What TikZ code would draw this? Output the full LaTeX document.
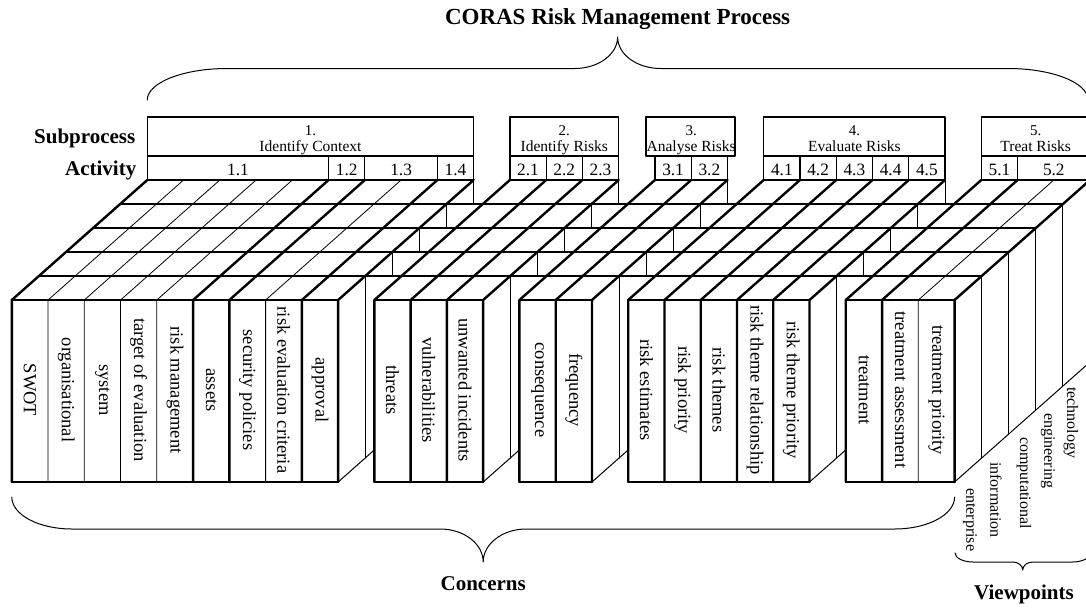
\documentclass[tikz,border=0pt]{standalone}
\usepackage{fontspec}
\setmainfont{Liberation Serif}
\newcommand\fsz[1]{\fontsize{#1}{#1}\selectfont}
\begin{document}
\begin{tikzpicture}[x=1pt,y=-1pt,line cap=round,line join=round,
  heavy/.style={line width=2.4pt},
  edge/.style={line width=2pt},
  layer/.style={line width=1.3pt},
  light/.style={line width=0.8pt},
  side/.style={line width=1pt},
  box/.style={line width=1.2pt},
  bracestroke/.style={line width=1pt},
  concern/.style={rotate=-90,inner sep=0pt,font=\fsz{18.5}},
  viewpt/.style={rotate=-90,anchor=west,inner sep=0pt,font=\fsz{16}},
  actnum/.style={anchor=base,inner sep=0pt,font=\fsz{17.3}},
  subnum/.style={anchor=base,inner sep=0pt,font=\fsz{15}},
  subname/.style={anchor=base,inner sep=0pt,font=\fsz{15.5}},
  heading/.style={inner sep=0pt,font=\bfseries\fsz{21}}]
% unit column width, front/back left edges, depth step per layer
\def\U{36.26}\def\FX{11.8}\def\BX{147.3}\def\DX{27.1}\def\DY{24}
\useasboundingbox (0,0) rectangle (1086,608);
\clip (0,0) rectangle (1086,608);

% layer lines across the top faces
\foreach \j in {1,...,4}
  \draw[layer] ({\FX+\j*\DX},{300-\j*\DY}) -- ({\FX+26*\U+\j*\DX},{300-\j*\DY});

% column borders: activity borders heavy, inner borders light
\foreach \b in {0,5,6,8,9,10,11,12,13,14,15,16,17,18,19,20,21,22,23,24,26}
  \draw[heavy] ({\FX+\b*\U},482) -- ({\FX+\b*\U},300) -- ({\BX+\b*\U},180);
\foreach \b in {1,2,3,4,7,25}
  \draw[light] ({\FX+\b*\U},482) -- ({\FX+\b*\U},300) -- ({\BX+\b*\U},180);

% blocks: front edges, subprocess box, activity row
\foreach \a/\e/\l/\r/\n/\t in {0/9/0/0/1/Identify Context, 10/13/0/0/2/Identify Risks,
    14/16/9/7.5/3/Analyse Risks, 17/22/0/0/4/Evaluate Risks, 23/26/0/0/5/Treat Risks}{
  \draw[edge] ({\FX+\a*\U},300) -- ({\FX+\e*\U},300);
  \draw[edge] ({\FX+\a*\U},482) -- ({\FX+\e*\U},482);
  \draw[box] ({\BX+\a*\U-\l},117) rectangle ({\BX+\e*\U+\r},156);
  \draw[box] ({\BX+\a*\U},156) rectangle ({\BX+\e*\U},180);
  \node[subnum] (sn\n) at ({\BX+(\a+\e)/2*\U},135) {\n.};
  \node[subname] (sp\n) at ({\BX+(\a+\e)/2*\U},151.5) {\t};
}

% activity dividers
\foreach \b in {5,6,8,11,12,15,18,19,20,21,24}
  \draw[box] ({\BX+\b*\U},156) -- ({\BX+\b*\U},180);

\foreach \a/\e/\t [count=\i] in {0/5/1.1, 5/6/1.2, 6/8/1.3, 8/9/1.4, 10/11/2.1, 11/12/2.2,
    12/13/2.3, 14/15/3.1, 15/16/3.2, 17/18/4.1, 18/19/4.2, 19/20/4.3, 20/21/4.4, 21/22/4.5,
    23/24/5.1, 24/26/5.2}
  \node[actnum] (act\i) at ({\BX+(\a+\e)/2*\U},175) {\t};

% right side faces seen through the gaps (stepped)
\foreach \e in {9,13,16,22}{
  \pgfmathsetmacro\R{\FX+\e*\U}
  \draw[side] (\R,482) -- ({\R+\U},{482-\U*\DY/\DX});
  \draw[side] ({\R+\DX},276) -- ({\R+\DX},458);
  \foreach \j in {2,...,5}
    \draw[side] ({\R+\j*\DX},{300-\j*\DY}) -- ({\R+\j*\DX},{324-\j*\DY});
}
% right side face of the last block
\pgfmathsetmacro\RL{\FX+26*\U}
\draw[side] (\RL,482) -- ({\RL+5*\DX},{482-5*\DY});
\foreach \j in {1,...,5}
  \draw[side] ({\RL+\j*\DX},{300-\j*\DY}) -- ({\RL+\j*\DX},{482-\j*\DY});

% concerns on the front faces
\foreach \c/\t in {0/SWOT,1/organisational,2/system,3/target of evaluation,4/risk management,
    5/assets,6/security policies,7/risk evaluation criteria,8/approval,10/threats,
    11/vulnerabilities,12/unwanted incidents,14/consequence,15/frequency,17/risk estimates,
    18/risk priority,19/risk themes,20/risk theme relationship,21/risk theme priority,
    23/treatment,24/treatment assessment,25/treatment priority}
  \node[concern] (con\c) at ({\FX+(\c+0.5)*\U},390) {\t};

% viewpoints under the side face
\foreach \px/\py/\t [count=\i] in {970/488/enterprise, 996/462/information,
    1024/437/computational, 1048/413/engineering, 1071/387/technology}
  \node[viewpt] (vp\i) at (\px,\py) {\t};

% headings
\node[heading,anchor=base east] (subl) at (135.5,143) {Subprocess};
\node[heading,anchor=base east] (actl) at (136.5,175) {Activity};
\node[heading,font=\bfseries\fsz{23}] (title) at (617.6,19) {CORAS Risk Management Process};
\node[heading] (concl) at (483.2,584) {Concerns};
\node[heading] (viewl) at (1024,594) {Viewpoints};

% braces
\draw[bracestroke] (147.3,100) .. controls (147.3,82.6) and (183.1,68.5) .. (227.3,68.5)
  -- (574.6,68.5) .. controls (598.3,68.5) and (617.6,54.4) .. (617.6,37)
  .. controls (617.6,54.4) and (636.9,68.5) .. (660.6,68.5)
  -- (1008,68.5) .. controls (1052.2,68.5) and (1088,82.6) .. (1088,100);
\draw[bracestroke] (11.8,497) .. controls (11.8,514.7) and (38.7,529) .. (71.8,529)
  -- (440.2,529) .. controls (463.9,529) and (483.2,543.8) .. (483.2,562)
  .. controls (483.2,543.8) and (502.5,529) .. (526.2,529)
  -- (894.6,529) .. controls (927.7,529) and (954.6,514.7) .. (954.6,497);
\draw[bracestroke] (955,553) .. controls (955,558) and (963.1,562) .. (973,562)
  -- (1012.7,562) .. controls (1018.2,562) and (1022.7,565.6) .. (1022.7,570)
  .. controls (1022.7,565.6) and (1027.2,562) .. (1032.7,562)
  -- (1072.4,562) .. controls (1082.3,562) and (1090.4,558) .. (1090.4,553);
\end{tikzpicture}
\end{document}
